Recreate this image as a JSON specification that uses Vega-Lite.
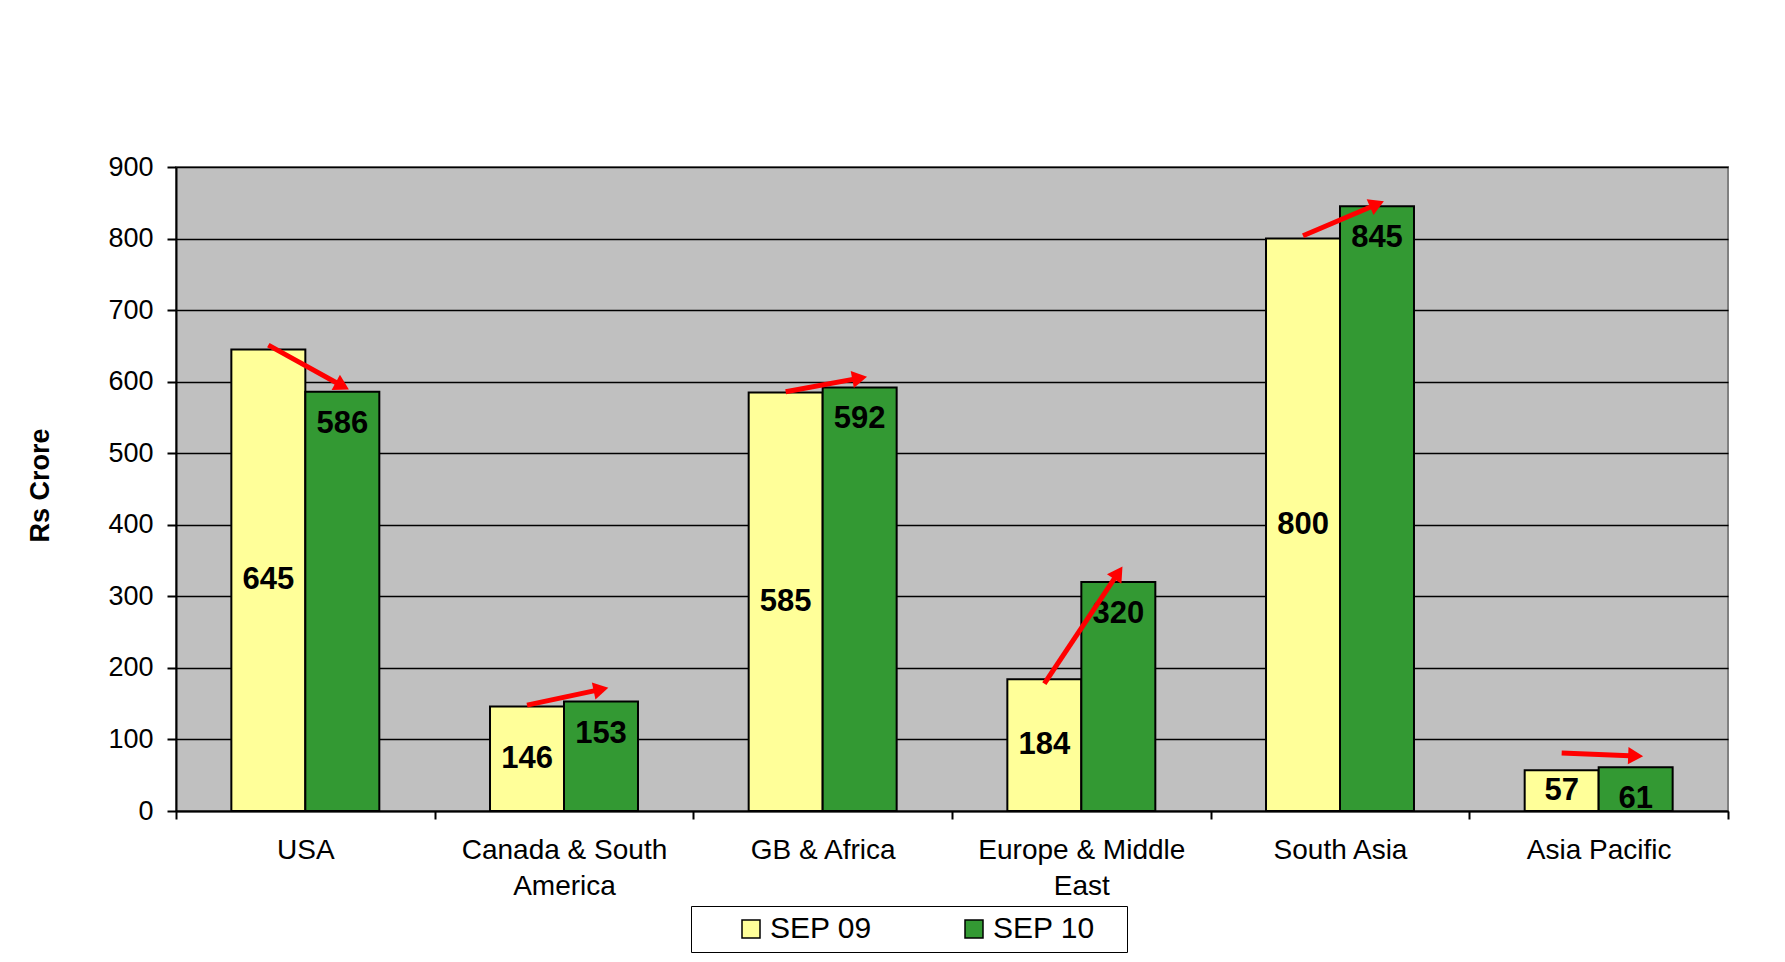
{
  "$schema": "https://vega.github.io/schema/vega-lite/v6.json",
  "width": 1552,
  "height": 644,
  "autosize": {"type": "none"},
  "padding": {"left": 176, "top": 167, "right": 57, "bottom": 151},
  "background": "white",
  "config": {
    "font": "Liberation Sans",
    "view": {"fill": "#C0C0C0", "stroke": "#808080", "strokeWidth": 2}
  },
  "datasets": {
    "bars": [
      {"region": "USA", "series": "SEP 09", "value": 645},
      {"region": "USA", "series": "SEP 10", "value": 586},
      {"region": "Canada & South America", "series": "SEP 09", "value": 146},
      {"region": "Canada & South America", "series": "SEP 10", "value": 153},
      {"region": "GB & Africa", "series": "SEP 09", "value": 585},
      {"region": "GB & Africa", "series": "SEP 10", "value": 592},
      {"region": "Europe & Middle East", "series": "SEP 09", "value": 184},
      {"region": "Europe & Middle East", "series": "SEP 10", "value": 320},
      {"region": "South Asia", "series": "SEP 09", "value": 800},
      {"region": "South Asia", "series": "SEP 10", "value": 845},
      {"region": "Asia Pacific", "series": "SEP 09", "value": 57},
      {"region": "Asia Pacific", "series": "SEP 10", "value": 61}
    ],
    "arrows": [
      {"region": "USA", "SEP 09": 651, "SEP 10": 594},
      {"region": "Canada & South America", "SEP 09": 148, "SEP 10": 170},
      {"region": "GB & Africa", "SEP 09": 586, "SEP 10": 605},
      {"region": "Europe & Middle East", "SEP 09": 178, "SEP 10": 333},
      {"region": "South Asia", "SEP 09": 804, "SEP 10": 848},
      {"region": "Asia Pacific", "SEP 09": 81, "SEP 10": 77}
    ]
  },
  "encoding": {
    "x": {
      "field": "region",
      "type": "nominal",
      "scale": {
        "domain": ["USA", "Canada & South America", "GB & Africa", "Europe & Middle East", "South Asia", "Asia Pacific"],
        "paddingInner": 0,
        "paddingOuter": 0
      },
      "axis": {
        "title": null,
        "labelAngle": 0,
        "labelFontSize": 28,
        "labelColor": "black",
        "labelPadding": 17,
        "labelLineHeight": 36,
        "labelLimit": 500,
        "labelExpr": "datum.label == 'Canada & South America' ? ['Canada & South', 'America'] : datum.label == 'Europe & Middle East' ? ['Europe & Middle', 'East'] : datum.label",
        "domainColor": "black",
        "domainWidth": 2,
        "tickColor": "black",
        "tickWidth": 2,
        "tickSize": 8,
        "tickBand": "extent",
        "grid": false
      }
    },
    "xOffset": {
      "field": "series",
      "type": "nominal",
      "scale": {"domain": ["SEP 09", "SEP 10"], "paddingInner": 0, "paddingOuter": 0.748}
    }
  },
  "layer": [
    {
      "data": {"name": "bars"},
      "mark": {"type": "bar", "stroke": "black", "strokeWidth": 2},
      "encoding": {
        "y": {
          "field": "value",
          "type": "quantitative",
          "scale": {"domain": [0, 900], "nice": false},
          "axis": {
            "values": [0, 100, 200, 300, 400, 500, 600, 700, 800, 900],
            "title": "Rs Crore",
            "titleFontSize": 27,
            "titleFontWeight": "bold",
            "titleColor": "black",
            "titleX": -128,
            "titleY": 318,
            "titleBaseline": "alphabetic",
            "titleAlign": "center",
            "titleAngle": -90,
            "labelFontSize": 27,
            "labelColor": "black",
            "labelPadding": 14,
            "domainColor": "black",
            "domainWidth": 2,
            "tickColor": "black",
            "tickWidth": 2,
            "tickSize": 9,
            "grid": true,
            "gridColor": "black",
            "gridWidth": 1.5
          }
        },
        "fill": {
          "field": "series",
          "type": "nominal",
          "scale": {"domain": ["SEP 09", "SEP 10"], "range": ["#FFFF99", "#339933"]},
          "legend": {
            "title": "\u00a0",
            "titleOrient": "right",
            "titleFontSize": 28,
            "titlePadding": 24,
            "orient": "none",
            "legendX": 515,
            "legendY": 739,
            "direction": "horizontal",
            "strokeColor": "black",
            "fillColor": "white",
            "padding": 8,
            "symbolOffset": 37,
            "labelFontSize": 30,
            "labelColor": "black",
            "labelOffset": 4,
            "columnPadding": 50,
            "symbolType": "square",
            "symbolSize": 324,
            "symbolStrokeColor": "black",
            "symbolStrokeWidth": 1.5
          }
        }
      }
    },
    {
      "data": {"name": "bars"},
      "transform": [
        {"filter": "datum.series == 'SEP 09'"},
        {"calculate": "datum.value / 2", "as": "mid"}
      ],
      "mark": {"type": "text", "fontSize": 31, "fontWeight": "bold", "color": "black", "baseline": "middle", "align": "center"},
      "encoding": {
        "y": {"field": "mid", "type": "quantitative"},
        "text": {"field": "value", "type": "quantitative"}
      }
    },
    {
      "data": {"name": "bars"},
      "transform": [{"filter": "datum.series == 'SEP 10'"}],
      "mark": {"type": "text", "fontSize": 31, "fontWeight": "bold", "color": "black", "baseline": "middle", "align": "center", "dy": 32},
      "encoding": {
        "y": {"field": "value", "type": "quantitative"},
        "text": {"field": "value", "type": "quantitative"}
      }
    },
    {
      "data": {"name": "arrows"},
      "transform": [
        {"calculate": "atan2((datum['SEP 09'] - datum['SEP 10']) * 644 / 900, 74) * 180 / PI", "as": "angle"},
        {"fold": ["SEP 09", "SEP 10"], "as": ["series", "level"]}
      ],
      "mark": {"type": "line", "color": "#FF0000", "strokeWidth": 5},
      "encoding": {
        "y": {"field": "level", "type": "quantitative"},
        "detail": {"field": "region"}
      }
    },
    {
      "data": {"name": "arrows"},
      "transform": [
        {"calculate": "atan2((datum['SEP 09'] - datum['SEP 10']) * 644 / 900, 74) * 180 / PI", "as": "angle"},
        {"fold": ["SEP 09", "SEP 10"], "as": ["series", "level"]},
        {"filter": "datum.series == 'SEP 10'"}
      ],
      "mark": {"type": "point", "shape": "triangle-right", "filled": true, "color": "#FF0000", "size": 300, "opacity": 1},
      "encoding": {
        "y": {"field": "level", "type": "quantitative"},
        "angle": {"field": "angle", "type": "quantitative", "scale": null}
      }
    }
  ]
}
